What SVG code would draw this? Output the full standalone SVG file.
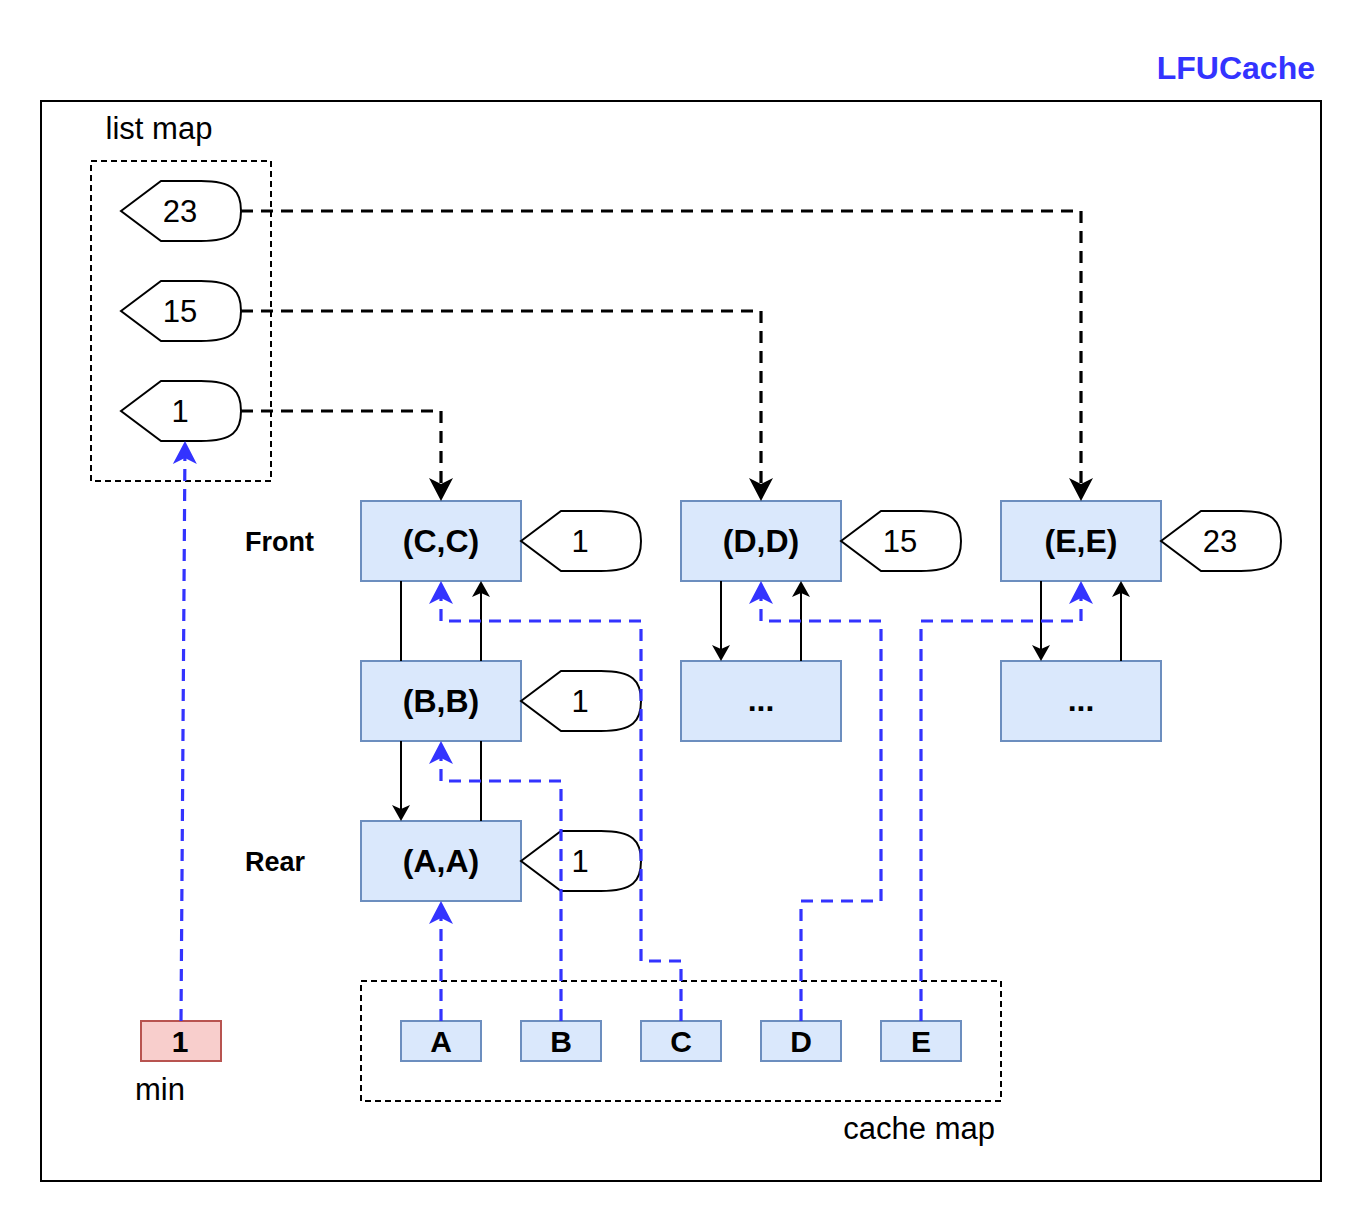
<svg xmlns="http://www.w3.org/2000/svg" width="1362" height="1222" viewBox="0 0 1362 1222">
<style>
text{font-family:"Liberation Sans",Arial,Helvetica,sans-serif;fill:#000}
.lbl{font-size:31px}
.b{font-weight:bold}
.node{fill:#dae8fc;stroke:#6c8ebf;stroke-width:2}
.tag{fill:#fff;stroke:#000;stroke-width:2}
.grp{fill:none;stroke:#000;stroke-width:2;stroke-dasharray:6 4}
.solid{fill:none;stroke:#000;stroke-width:2}
.bd{fill:none;stroke:#000;stroke-width:3.2;stroke-dasharray:12 8}
.blue{fill:none;stroke:#3333ff;stroke-width:3.2;stroke-dasharray:12 8}
</style>
<defs>
<marker id="ab" viewBox="-20 -12 24 24" markerWidth="24" markerHeight="24" refX="-12" refY="0" orient="auto" markerUnits="userSpaceOnUse"><path d="M0,0 L-16,-9 L-12,0 L-16,9 Z" fill="#000"/></marker>
<marker id="abig" viewBox="-26 -14 30 28" markerWidth="30" markerHeight="28" refX="-17" refY="0" orient="auto" markerUnits="userSpaceOnUse"><path d="M0,0 L-23,-12 L-17,0 L-23,12 Z" fill="#000"/></marker>
<marker id="ablue" viewBox="-26 -14 30 28" markerWidth="30" markerHeight="28" refX="-17" refY="0" orient="auto" markerUnits="userSpaceOnUse"><path d="M0,0 L-23,-12 L-17,0 L-23,12 Z" fill="#3333ff"/></marker>
</defs>
<rect width="1362" height="1222" fill="#fff"/>
<g id="title"><text x="1315" y="79" text-anchor="end" class="b" style="font-size:32px;fill:#3333ff">LFUCache</text></g>
<g id="lfucache"><rect x="41" y="101" width="1280" height="1080" fill="#fff" stroke="#000" stroke-width="2"/></g>

<g id="listmap">
<rect x="91" y="161" width="180" height="320" class="grp"/>
<text x="159" y="139" text-anchor="middle" class="lbl">list map</text>
</g>
<g id="lm23"><path class="tag" d="M121,211 L161,181 L201,181 C233,181 241,191 241,211 C241,231 233,241 201,241 L161,241 Z"/><text x="180" y="222" text-anchor="middle" class="lbl">23</text></g>
<g id="lm15"><path class="tag" d="M121,311 L161,281 L201,281 C233,281 241,291 241,311 C241,331 233,341 201,341 L161,341 Z"/><text x="180" y="322" text-anchor="middle" class="lbl">15</text></g>
<g id="lm1"><path class="tag" d="M121,411 L161,381 L201,381 C233,381 241,391 241,411 C241,431 233,441 201,441 L161,441 Z"/><text x="180" y="422" text-anchor="middle" class="lbl">1</text></g>

<g id="front"><text x="245" y="550.7" class="b" style="font-size:27px">Front</text></g>
<g id="rear"><text x="245" y="870.7" class="b" style="font-size:27px">Rear</text></g>

<g id="nodeC"><rect x="361" y="501" width="160" height="80" class="node"/><text x="441" y="552" text-anchor="middle" class="b" style="font-size:32px">(C,C)</text></g>
<g id="tagC"><path class="tag" d="M521,541 L561,511 L601,511 C633,511 641,521 641,541 C641,561 633,571 601,571 L561,571 Z"/><text x="580" y="552" text-anchor="middle" class="lbl">1</text></g>
<g id="nodeB"><rect x="361" y="661" width="160" height="80" class="node"/><text x="441" y="712" text-anchor="middle" class="b" style="font-size:32px">(B,B)</text></g>
<g id="tagB"><path class="tag" d="M521,701 L561,671 L601,671 C633,671 641,681 641,701 C641,721 633,731 601,731 L561,731 Z"/><text x="580" y="712" text-anchor="middle" class="lbl">1</text></g>
<g id="nodeA"><rect x="361" y="821" width="160" height="80" class="node"/><text x="441" y="872" text-anchor="middle" class="b" style="font-size:32px">(A,A)</text></g>
<g id="tagA"><path class="tag" d="M521,861 L561,831 L601,831 C633,831 641,841 641,861 C641,881 633,891 601,891 L561,891 Z"/><text x="580" y="872" text-anchor="middle" class="lbl">1</text></g>

<g id="nodeD"><rect x="681" y="501" width="160" height="80" class="node"/><text x="761" y="552" text-anchor="middle" class="b" style="font-size:32px">(D,D)</text></g>
<g id="tagD"><path class="tag" d="M841,541 L881,511 L921,511 C953,511 961,521 961,541 C961,561 953,571 921,571 L881,571 Z"/><text x="900" y="552" text-anchor="middle" class="lbl">15</text></g>
<g id="nodeD2"><rect x="681" y="661" width="160" height="80" class="node"/><text x="761" y="711" text-anchor="middle" class="b" style="font-size:32px">...</text></g>

<g id="nodeE"><rect x="1001" y="501" width="160" height="80" class="node"/><text x="1081" y="552" text-anchor="middle" class="b" style="font-size:32px">(E,E)</text></g>
<g id="tagE"><path class="tag" d="M1161,541 L1201,511 L1241,511 C1273,511 1281,521 1281,541 C1281,561 1273,571 1241,571 L1201,571 Z"/><text x="1220" y="552" text-anchor="middle" class="lbl">23</text></g>
<g id="nodeE2"><rect x="1001" y="661" width="160" height="80" class="node"/><text x="1081" y="711" text-anchor="middle" class="b" style="font-size:32px">...</text></g>

<g id="cachemap">
<rect x="361" y="981" width="640" height="120" class="grp"/>
<text x="995" y="1139" text-anchor="end" class="lbl">cache map</text>
</g>
<g id="keyA"><rect x="401" y="1021" width="80" height="40" class="node"/><text x="441" y="1052" text-anchor="middle" class="b" style="font-size:30px">A</text></g>
<g id="keyB"><rect x="521" y="1021" width="80" height="40" class="node"/><text x="561" y="1052" text-anchor="middle" class="b" style="font-size:30px">B</text></g>
<g id="keyC"><rect x="641" y="1021" width="80" height="40" class="node"/><text x="681" y="1052" text-anchor="middle" class="b" style="font-size:30px">C</text></g>
<g id="keyD"><rect x="761" y="1021" width="80" height="40" class="node"/><text x="801" y="1052" text-anchor="middle" class="b" style="font-size:30px">D</text></g>
<g id="keyE"><rect x="881" y="1021" width="80" height="40" class="node"/><text x="921" y="1052" text-anchor="middle" class="b" style="font-size:30px">E</text></g>

<g id="min">
<rect x="141" y="1021" width="80" height="40" fill="#f8cecc" stroke="#b85450" stroke-width="2"/>
<text x="180" y="1052" text-anchor="middle" class="b" style="font-size:30px">1</text>
<text x="160" y="1100" text-anchor="middle" class="lbl">min</text>
</g>

<g id="connectors">
<path class="solid" d="M401,581 V661"/>
<path class="solid" d="M481,661 V593" marker-end="url(#ab)"/>
<path class="solid" d="M401,741 V809" marker-end="url(#ab)"/>
<path class="solid" d="M481,821 V741"/>
<path class="solid" d="M721,581 V649" marker-end="url(#ab)"/>
<path class="solid" d="M801,661 V593" marker-end="url(#ab)"/>
<path class="solid" d="M1041,581 V649" marker-end="url(#ab)"/>
<path class="solid" d="M1121,661 V593" marker-end="url(#ab)"/>

<path class="bd" d="M241,211 H1081 V484" marker-end="url(#abig)"/>
<path class="bd" d="M241,311 H761 V484" marker-end="url(#abig)"/>
<path class="bd" d="M241,411 H441 V484" marker-end="url(#abig)"/>

<path class="blue" d="M181,1021 L184.9,458" marker-end="url(#ablue)"/>
<path class="blue" d="M441,1021 V918" marker-end="url(#ablue)"/>
<path class="blue" d="M561,1021 V781 H441 V758" marker-end="url(#ablue)"/>
<path class="blue" d="M681,1021 V961 H641 V621 H441 V598" marker-end="url(#ablue)"/>
<path class="blue" d="M801,1021 V901 H881 V621 H761 V598" marker-end="url(#ablue)"/>
<path class="blue" d="M921,1021 V621 H1081 V598" marker-end="url(#ablue)"/>
</g>
</svg>
